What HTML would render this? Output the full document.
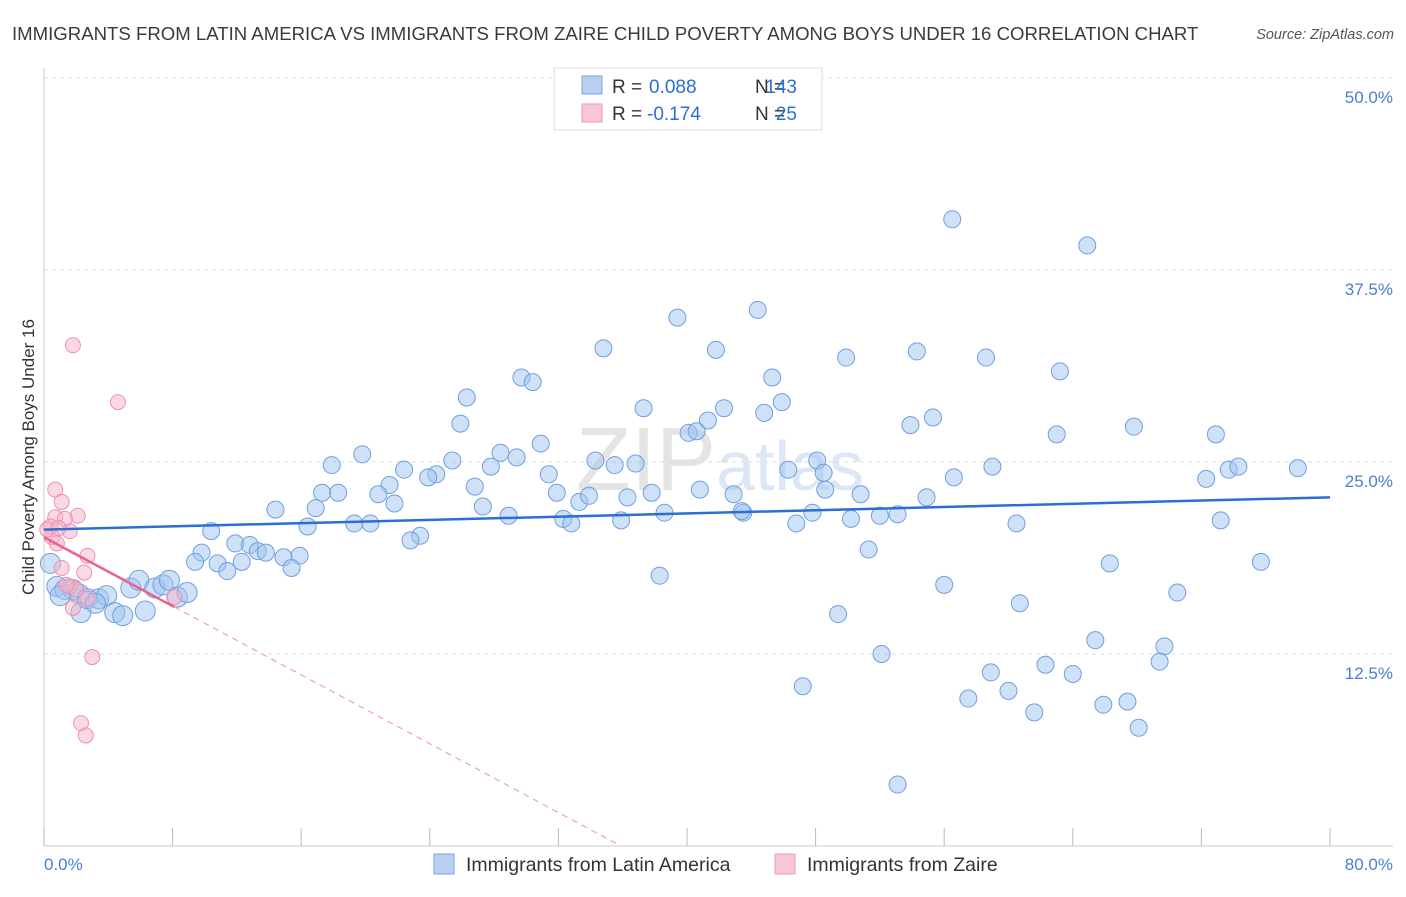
<!DOCTYPE html>
<html><head><meta charset="utf-8"><style>
body{margin:0;background:#fff;font-family:"Liberation Sans",sans-serif;}
svg text{font-family:"Liberation Sans",sans-serif;}
</style></head><body>
<svg id="chart" width="1406" height="892" xmlns="http://www.w3.org/2000/svg">
<text x="12" y="40" font-size="18.6" fill="#3a3a3a">IMMIGRANTS FROM LATIN AMERICA VS IMMIGRANTS FROM ZAIRE CHILD POVERTY AMONG BOYS UNDER 16 CORRELATION CHART</text>
<text x="1394" y="39" font-size="14.5" fill="#555" font-style="italic" text-anchor="end">Source: ZipAtlas.com</text>
<text x="720" y="490" font-size="90" fill="#e6ecf3" text-anchor="middle" font-family="Liberation Serif"><tspan fill="#e4e4e4">ZIP</tspan><tspan font-family="Liberation Sans" font-size="70" fill="#dbe7f6">atlas</tspan></text>
<g id="grid"></g><g id="axes"></g><g id="pts"></g><g id="lines"></g>
<text transform="translate(34,457) rotate(-90)" font-size="17" fill="#333" text-anchor="middle">Child Poverty Among Boys Under 16</text>
<g>
<rect x="554" y="68" width="268" height="62" fill="#fff" stroke="#ddd"/>
<rect x="582" y="76" width="20" height="18" fill="#b6d0f2" stroke="#7aa6e0"/>
<rect x="582" y="104" width="20" height="18" fill="#f9c6d6" stroke="#ee9ab6"/>
<text x="612" y="93" font-size="19" fill="#333">R =</text>
<text x="649" y="93" font-size="19" fill="#2b6fd6">0.088</text>
<text x="755" y="93" font-size="19" fill="#333">N =</text>
<text x="797" y="93" font-size="19" fill="#2b6fd6" text-anchor="end">143</text>
<text x="612" y="120" font-size="19" fill="#333">R =</text>
<text x="647" y="120" font-size="19" fill="#2b6fd6">-0.174</text>
<text x="755" y="120" font-size="19" fill="#333">N =</text>
<text x="797" y="120" font-size="19" fill="#2b6fd6" text-anchor="end">25</text>
</g>
<g>
<rect x="434" y="854" width="20" height="20" fill="#b6d0f2" stroke="#7aa6e0"/>
<text x="466" y="871" font-size="19.5" fill="#333">Immigrants from Latin America</text>
<rect x="775" y="854" width="20" height="20" fill="#f9c6d6" stroke="#ee9ab6"/>
<text x="807" y="871" font-size="19.5" fill="#333">Immigrants from Zaire</text>
</g>
</svg>
<script>
const blueX=[56.5,64.9,39.4,44.4,34.8,41.8,54.3,49.9,58.6,63.2,29.7,30.4,45.3,26.3,37.3,45.9,44.8,42.3,25.9,41.3,40.1,40.6,55.3,53.9,67.8,72.9,63.0,30.9,19.8,28.4,29.4,25.4,34.3,17.9,22.4,27.8,35.5,36.8,59.0,48.1,31.4,24.4,23.9,46.3,48.5,73.7,74.3,78.0,72.3,56.6,26.8,21.5,17.3,18.3,31.9,37.8,40.8,48.6,50.8,42.9,20.8,33.3,33.9,36.3,54.9,21.8,27.3,14.4,16.9,38.6,43.5,47.8,52.0,53.1,43.4,28.9,32.3,32.8,35.9,46.8,50.2,60.5,73.2,19.3,20.3,16.4,10.4,23.4,22.8,11.9,12.8,13.3,13.8,14.9,15.9,9.8,51.3,9.4,10.8,12.3,11.4,15.4,66.3,75.7,38.3,56.0,70.5,60.7,49.4,65.4,69.7,52.1,69.4,62.3,58.9,64.0,47.2,60.0,57.5,67.4,65.9,61.6,68.1,53.1,0.4,0.8,1.3,1.8,2.2,2.3,2.7,3.4,3.9,4.4,4.9,5.4,5.9,6.3,6.9,7.4,7.8,8.3,8.9,3.2,1.0];
const blueY=[40.8,39.1,34.4,34.9,32.4,32.3,32.2,31.8,31.8,30.9,30.5,30.2,30.5,29.2,28.5,28.9,28.2,28.5,27.5,27.7,26.9,27.0,27.9,27.4,27.3,26.8,26.8,26.2,25.5,25.6,25.3,25.1,25.1,24.8,24.5,24.7,24.8,24.9,24.7,25.1,24.2,24.2,24.0,24.5,24.3,24.5,24.7,24.6,23.9,24.0,23.4,23.5,23.0,23.0,23.0,23.0,23.2,23.2,22.9,22.9,22.9,22.4,22.8,22.7,22.7,22.3,22.1,21.9,22.0,21.7,21.7,21.7,21.5,21.6,21.8,21.5,21.3,21.0,21.2,21.0,21.3,21.0,21.2,21.0,21.0,20.8,20.5,20.2,19.9,19.7,19.6,19.2,19.1,18.8,18.9,19.1,19.3,18.5,18.4,18.5,17.9,18.1,18.4,18.5,17.6,17.0,16.5,15.8,15.1,13.4,13.0,12.5,12.0,11.8,11.3,11.2,10.4,10.1,9.6,9.4,9.2,8.7,7.7,4.0,18.4,16.9,16.7,16.7,16.4,15.2,16.1,16.1,16.3,15.2,15.0,16.8,17.3,15.3,16.8,17.0,17.3,16.2,16.5,15.8,16.3];
const pinkX=[1.8,4.6,0.7,1.1,2.1,0.7,0.4,1.6,0.5,0.8,2.7,1.1,2.5,1.6,2.0,1.4,2.7,1.8,3.0,2.3,2.6,0.2,1.3,8.1,0.9];
const pinkY=[32.6,28.9,23.2,22.4,21.5,21.4,20.8,20.5,20.1,19.7,18.9,18.1,17.8,16.9,16.7,17.0,16.1,15.5,12.3,8.0,7.2,20.6,21.3,16.2,20.7];
const blueTrend=[20.6,22.7];
const pinkTrend=[20.1,-0.56];
const yTicks=[12.5,25.0,37.5,50.0];
const xTicks=[0,8,16,24,32,40,48,56,64,72,80];
const NS="http://www.w3.org/2000/svg";
const X=v=>44+v*16.075, Y=v=>846-v*15.36;
function mk(t,a,p){const e=document.createElementNS(NS,t);for(const k in a)e.setAttribute(k,a[k]);p.appendChild(e);return e;}
const grid=document.getElementById('grid'),axes=document.getElementById('axes'),pts=document.getElementById('pts'),lines=document.getElementById('lines');
yTicks.forEach(v=>{
 const l=mk('line',{x1:44,x2:1393,y1:Y(v),y2:Y(v),stroke:'#dcdcdc','stroke-dasharray':'4,4'},grid);
 
 
 const t=mk('text',{x:1393,y:Y(v)+25,'font-size':17,fill:'#4a7fd4','text-anchor':'end'},grid);
 t.textContent=v.toFixed(1)+'%';
 
 
});
const ax=mk('line',{x1:44,x2:44,y1:68,y2:846,stroke:'#ccc'},axes);


const bx=mk('line',{x1:44,x2:1393,y1:846,y2:846,stroke:'#ccc'},axes);


xTicks.forEach(v=>{
 const l=mk('line',{x1:X(v),x2:X(v),y1:828,y2:846,stroke:'#bbb'},axes);
 
 
});
[[0,'start'],[80,'end']].forEach(([v,a])=>{
 const t=mk('text',{x:v==0?44:1393,y:870,'font-size':17,fill:'#4a7fd4','text-anchor':a},axes);
 t.textContent=v.toFixed(1)+'%';
 
 
});
blueX.forEach((x,i)=>{
 const c=mk('circle',{cx:X(x),cy:Y(blueY[i]),r:x<9?10:8.5,fill:'rgba(160,195,240,0.5)',stroke:'#6f9fe0','stroke-width':1},pts);
 
 
});
pinkX.forEach((x,i)=>{
 const c=mk('circle',{cx:X(x),cy:Y(pinkY[i]),r:7.5,fill:'rgba(247,180,202,0.5)',stroke:'#ee8fae','stroke-width':1},pts);
 
 
});
const bl=mk('line',{x1:X(0),y1:Y(blueTrend[0]),x2:X(80),y2:Y(blueTrend[1]),stroke:'#2b6fd6','stroke-width':2.5},lines);


const xs=Math.max(...pinkX), xz=-pinkTrend[0]/pinkTrend[1];
const pl=mk('line',{x1:X(0),y1:Y(pinkTrend[0]),x2:X(xs),y2:Y(pinkTrend[0]+pinkTrend[1]*xs),stroke:'#e8638c','stroke-width':2.5},lines);


const pd=mk('line',{x1:X(xs),y1:Y(pinkTrend[0]+pinkTrend[1]*xs),x2:X(xz),y2:Y(0),stroke:'#efa0b8','stroke-width':1.2,'stroke-dasharray':'6,5'},lines);


</script>
</body></html>
